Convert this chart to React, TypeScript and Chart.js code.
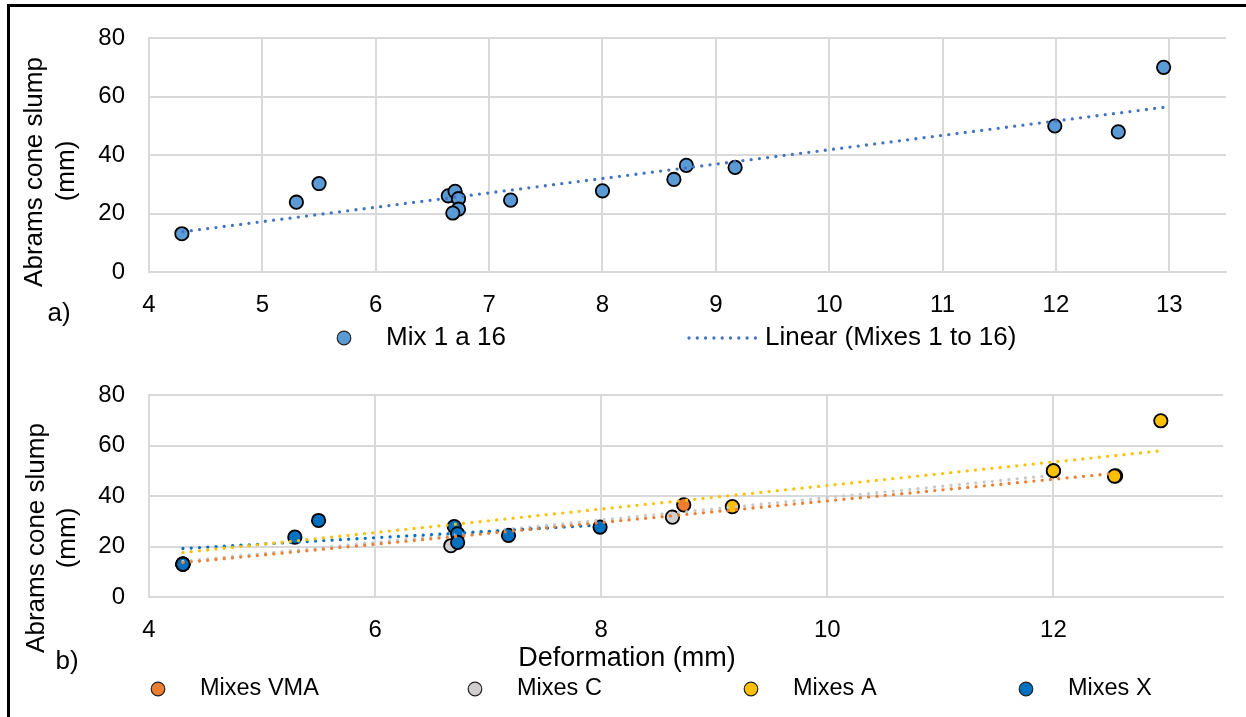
import React, { useEffect, useRef } from "react";
import { Chart, registerables } from "chart.js";
Chart.register(...registerables);

const FONT = "'Liberation Sans', Arial, sans-serif";

// ---- Chart a) data ----
const mixDeformation = [4.29, 5.3, 5.5, 6.64, 6.7, 6.73, 6.73, 6.68, 7.19, 8.0, 8.63, 8.74, 9.17, 11.99, 12.55, 12.95];
const mixSlump = [13.1, 23.9, 30.3, 26.1, 27.6, 25.1, 21.5, 20.2, 24.6, 27.8, 31.7, 36.5, 35.8, 50.0, 48.0, 70.1];
const trendAllX = [4.3, 12.95];
const trendAllY = [13.8, 56.4];

// ---- Chart b) data ----
const vmaX = [4.3, 8.73, 12.55];
const vmaY = [13, 36.5, 48];
const cX = [4.3, 6.67, 8.63, 12];
const cY = [13, 20.3, 31.6, 50];
const aX = [4.3, 9.16, 12, 12.54, 12.95];
const aY = [13, 35.8, 50, 47.9, 69.8];
const xX = [4.3, 5.29, 5.5, 6.7, 6.73, 6.73, 7.18, 7.99];
const xY = [13, 23.7, 30.3, 27.9, 25.0, 21.6, 24.4, 27.7];
const trendVmaX = [4.3, 12.55];
const trendVmaY = [13.6, 49.0];
const trendCX = [4.3, 11.95];
const trendCY = [14.1, 48.0];
const trendAX = [4.3, 12.95];
const trendAY = [17.6, 57.9];
const trendXX = [4.3, 8.0];
const trendXY = [19.2, 28.5];

const yTicks = [0, 20, 40, 60, 80];

const C_BLUE = "#5B9BD5";
const C_TREND = "#4472C4";
const C_VMA = "#ED7D31";
const C_C = "#D0CECE";
const C_A = "#FFC000";
const C_X = "#0070C0";

const pts = (xs: number[], ys: number[]) => xs.map((x, i) => ({ x, y: ys[i] }));

const pointDs = (label: string, xs: number[], ys: number[], color: string, order: number) => ({
  label,
  data: pts(xs, ys),
  backgroundColor: color,
  borderColor: "#000",
  borderWidth: 1.8,
  pointRadius: 6.7,
  order,
});

const trendDs = (label: string, xs: number[], ys: number[], color: string, order: number) => ({
  label,
  data: pts(xs, ys),
  showLine: true,
  pointRadius: 0,
  borderColor: color,
  backgroundColor: color,
  borderWidth: 3.3,
  borderDash: [0, 8.3],
  borderCapStyle: "round",
  order,
});

type Item =
  | { t: "text"; s: string; x: number; y: number; size: number; align?: CanvasTextAlign; rot?: boolean }
  | { t: "marker"; x: number; y: number; color: string }
  | { t: "dots"; x1: number; x2: number; y: number; color: string };

const overlay = (items: Item[]) => ({
  id: "overlay",
  afterDraw(chart: any) {
    const ctx: CanvasRenderingContext2D = chart.ctx;
    ctx.save();
    for (const it of items) {
      if (it.t === "text") {
        ctx.save();
        ctx.font = `${it.size}px ${FONT}`;
        ctx.fillStyle = "#000";
        ctx.textBaseline = "middle";
        ctx.textAlign = it.align || "center";
        ctx.translate(it.x, it.y);
        if (it.rot) ctx.rotate(-Math.PI / 2);
        ctx.fillText(it.s, 0, 0);
        ctx.restore();
      } else if (it.t === "marker") {
        ctx.beginPath();
        ctx.arc(it.x, it.y, 6.8, 0, Math.PI * 2);
        ctx.fillStyle = it.color;
        ctx.fill();
        ctx.lineWidth = 1.2;
        ctx.strokeStyle = "#222";
        ctx.stroke();
      } else if (it.t === "dots") {
        ctx.save();
        ctx.beginPath();
        ctx.setLineDash([0, 8.3]);
        ctx.lineCap = "round";
        ctx.lineWidth = 3.3;
        ctx.strokeStyle = it.color;
        ctx.moveTo(it.x1, it.y);
        ctx.lineTo(it.x2, it.y);
        ctx.stroke();
        ctx.restore();
      }
    }
    ctx.restore();
  },
});

const axes = (step: number) => ({
  x: {
    type: "linear",
    min: 4,
    max: 13.5,
    afterFit: (s: any) => {
      s.height = 40;
    },
    ticks: { stepSize: step, includeBounds: false, color: "#000", padding: 19, font: { family: FONT, size: 24 } },
    grid: { color: "#D9D9D9", lineWidth: 2, drawTicks: false },
    border: { display: true, color: "#D9D9D9", width: 2 },
  },
  y: {
    type: "linear",
    min: 0,
    max: 80,
    afterFit: (s: any) => {
      s.width = 60;
    },
    afterBuildTicks: (s: any) => {
      s.ticks = yTicks.map((v) => ({ value: v }));
    },
    ticks: { stepSize: 20, color: "#000", padding: 24, font: { family: FONT, size: 24 } },
    grid: { color: "#D9D9D9", lineWidth: 2, drawTicks: false },
    border: { display: true, color: "#D9D9D9", width: 2 },
  },
});

const configA = () => ({
  type: "scatter",
  data: {
    datasets: [
      trendDs("Linear (Mixes 1 to 16)", trendAllX, trendAllY, C_TREND, 0),
      pointDs("Mix 1 a 16", mixDeformation, mixSlump, C_BLUE, 1),
    ],
  },
  options: {
    animation: false,
    responsive: false,
    devicePixelRatio: 1,
    layout: { padding: { left: 89, right: 20, top: 34, bottom: 43 } },
    plugins: { legend: { display: false }, tooltip: { enabled: false } },
    scales: axes(1),
  },
  plugins: [
    overlay([
      { t: "text", s: "Abrams cone slump", x: 35, y: 172, size: 26, rot: true },
      { t: "text", s: "(mm)", x: 67, y: 171, size: 26, rot: true },
      { t: "text", s: "a)", x: 59, y: 314, size: 26 },
      { t: "marker", x: 344, y: 338, color: C_BLUE },
      { t: "text", s: "Mix 1 a 16", x: 386, y: 338, size: 26, align: "left" },
      { t: "dots", x1: 689, x2: 757, y: 338, color: C_TREND },
      { t: "text", s: "Linear (Mixes 1 to 16)", x: 765, y: 338, size: 26, align: "left" },
    ]),
  ],
});

const OFF = 355;
const configB = () => ({
  type: "scatter",
  data: {
    datasets: [
      trendDs("Linear (Mixes VMA)", trendVmaX, trendVmaY, C_VMA, 0),
      trendDs("Linear (Mixes C)", trendCX, trendCY, "#C9C9C9", 1),
      trendDs("Linear (Mixes A)", trendAX, trendAY, C_A, 0),
      trendDs("Linear (Mixes X)", trendXX, trendXY, C_X, 0),
      pointDs("Mixes VMA", vmaX, vmaY, C_VMA, 14),
      pointDs("Mixes C", cX, cY, C_C, 13),
      pointDs("Mixes A", aX, aY, C_A, 12),
      pointDs("Mixes X", xX, xY, C_X, 11),
    ],
  },
  options: {
    animation: false,
    responsive: false,
    devicePixelRatio: 1,
    layout: { padding: { left: 89, right: 23, top: 40, bottom: 80 } },
    plugins: { legend: { display: false }, tooltip: { enabled: false } },
    scales: axes(2),
  },
  plugins: [
    overlay([
      { t: "text", s: "Abrams cone slump", x: 37, y: 538 - OFF, size: 26, rot: true },
      { t: "text", s: "(mm)", x: 68, y: 538 - OFF, size: 26, rot: true },
      { t: "text", s: "b)", x: 67, y: 662 - OFF, size: 26 },
      { t: "text", s: "Deformation (mm)", x: 627, y: 659 - OFF, size: 27 },
      { t: "marker", x: 158, y: 689 - OFF, color: C_VMA },
      { t: "text", s: "Mixes VMA", x: 200, y: 689 - OFF, size: 23.5, align: "left" },
      { t: "marker", x: 475, y: 689 - OFF, color: C_C },
      { t: "text", s: "Mixes C", x: 517, y: 689 - OFF, size: 23.5, align: "left" },
      { t: "marker", x: 751, y: 689 - OFF, color: C_A },
      { t: "text", s: "Mixes A", x: 793, y: 689 - OFF, size: 23.5, align: "left" },
      { t: "marker", x: 1026, y: 689 - OFF, color: C_X },
      { t: "text", s: "Mixes X", x: 1068, y: 689 - OFF, size: 23.5, align: "left" },
    ]),
  ],
});

function ChartCanvas({ config, top, height }: { config: () => any; top: number; height: number }) {
  const ref = useRef<HTMLCanvasElement>(null);
  useEffect(() => {
    const chart = new Chart(ref.current as HTMLCanvasElement, config());
    return () => chart.destroy();
  }, []);
  return (
    <canvas
      ref={ref}
      width={1246}
      height={height}
      style={{ position: "absolute", left: 0, top, width: 1246, height }}
    />
  );
}

export default function App() {
  return (
    <div
      style={{
        position: "fixed",
        left: 0,
        top: 0,
        width: 1246,
        height: 717,
        background: "#fff",
        overflow: "hidden",
      }}
    >
      <ChartCanvas config={configA} top={0} height={OFF} />
      <ChartCanvas config={configB} top={OFF} height={717 - OFF} />
      <div
        style={{
          position: "absolute",
          left: 7,
          top: 4,
          width: 1400,
          height: 900,
          borderLeft: "3px solid #000",
          borderTop: "3px solid #000",
          pointerEvents: "none",
        }}
      />
    </div>
  );
}
